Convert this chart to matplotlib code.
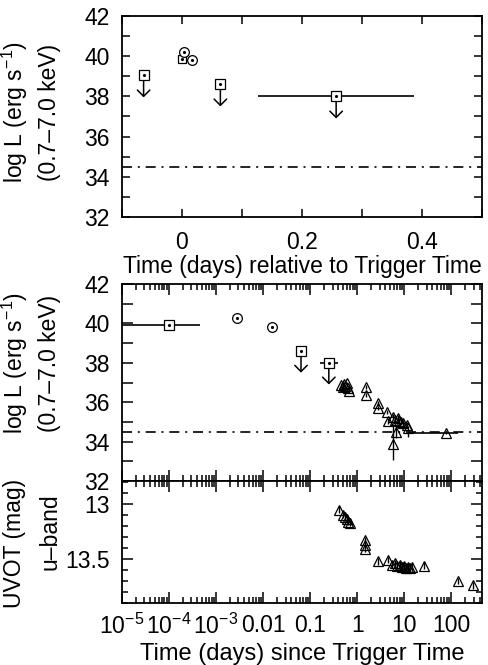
import numpy as np
import matplotlib.pyplot as plt
from matplotlib.ticker import FixedLocator, FixedFormatter, NullFormatter, LogLocator

plt.rcParams['font.family'] = ['Liberation Sans', 'DejaVu Sans']
plt.rcParams['mathtext.default'] = 'regular'

# --- top panel : linear time relative to trigger (days)
top_lim_t = [-0.064, 0.064, 0.257]
top_lim_L = [39.05, 38.6, 38.0]
top_lim_xlo = [0.0, 0.0, 0.131]
top_lim_xhi = [0.0, 0.0, 0.130]
top_sq_t = [0.0]
top_sq_L = [39.88]
top_circ_t = [0.003, 0.016]
top_circ_L = [40.22, 39.8]

# --- middle panel : log time since trigger
mid_sq_t = [1.0e-4]
mid_sq_L = [39.9]
mid_sq_xlo = [0.99e-4]
mid_sq_xhi = [3.6e-4]
mid_circ_t = [2.8e-3, 0.0153]
mid_circ_L = [40.25, 39.8]
mid_lim_t = [0.064, 0.25]
mid_lim_L = [38.6, 38.0]
mid_lim_xlo = [0.0, 0.09]
mid_lim_xhi = [0.0, 0.15]
mid_tri_t = [0.46, 0.50, 0.53, 0.56, 0.60, 0.63, 0.67, 1.55, 1.55, 2.75, 2.8,
             4.4, 4.6, 5.7, 5.8, 6.5, 6.8, 7.3, 7.8, 8.5, 9.5, 11.5, 12.0, 78.0]
mid_tri_L = [36.85, 36.75, 36.9, 36.8, 36.95, 36.7, 36.55, 36.75, 36.35, 35.95, 35.7,
             35.5, 35.05, 35.25, 33.9, 35.1, 34.5, 35.2, 35.05, 35.0, 34.95, 34.85, 34.7, 34.42]
mid_tri_elo = [0.1, 0.1, 0.1, 0.1, 0.1, 0.1, 0.1, 0.1, 0.1, 0.12, 0.12,
               0.12, 0.15, 0.15, 0.85, 0.15, 0.3, 0.15, 0.15, 0.15, 0.15, 0.15, 0.45, 0.05]
mid_tri_ehi = [0.1, 0.1, 0.1, 0.1, 0.1, 0.1, 0.1, 0.1, 0.1, 0.12, 0.12,
               0.12, 0.15, 0.15, 1.0, 0.15, 0.3, 0.15, 0.15, 0.15, 0.15, 0.15, 0.1, 0.05]
mid_bar_t = [78.0]
mid_bar_L = [34.42]
mid_bar_xlo = [66.0]
mid_bar_xhi = [60.0]

# --- bottom panel : UVOT u band
uv_t = [0.42, 0.50, 0.55, 0.60, 0.65, 0.70, 1.45, 1.45, 1.45, 2.8, 4.5,
        5.5, 6.5, 7.0, 8.0, 9.0, 10.0, 11.0, 12.0, 13.0, 15.0, 26.0, 139.0, 294.0]
uv_mag = [13.05, 13.10, 13.12, 13.14, 13.16, 13.17, 13.33, 13.37, 13.41, 13.52, 13.51,
          13.55, 13.54, 13.56, 13.55, 13.57, 13.56, 13.58, 13.57, 13.58, 13.57, 13.56, 13.70, 13.74]

bkg = 34.5  # background level
log_ticks = [1e-5, 1e-4, 1e-3, 1e-2, 0.1, 1, 10, 100]
log_labels = ['10$^{-5}$', '10$^{-4}$', '10$^{-3}$', '0.01', '0.1', '1', '10', '100']

fig = plt.figure(figsize=(4.89, 6.65), dpi=100)
ax1 = fig.add_axes([0.2495, 0.6737, 0.736, 0.3023])
ax2 = fig.add_axes([0.2495, 0.2767, 0.736, 0.2962])
ax3 = fig.add_axes([0.2495, 0.0932, 0.736, 0.1835])

fs = 16.5
k = 'black'
dd = (0, (6, 3.5, 1.2, 3.5))
arr = '->,head_length=0.45,head_width=0.45'


def lims(ax, t, L, xlo, xhi, d):
    ax.errorbar(t, L, xerr=[xlo, xhi], fmt='s', ms=7, mfc='white', mec=k, mew=0.9,
                ecolor=k, elinewidth=1.2, capsize=0, zorder=3)
    ax.plot(t, L, '.', color=k, ms=2.5, zorder=4)
    for x, y in zip(t, L):
        ax.annotate('', xy=(x, y - d), xytext=(x, y),
                    arrowprops=dict(arrowstyle=arr, color=k, lw=1.1, shrinkA=0, shrinkB=0))


def circs(ax, t, L):
    ax.plot(t, L, 'o', ms=7, mfc='white', mec=k, mew=0.9, zorder=3)
    ax.plot(t, L, '.', color=k, ms=2.5, zorder=4)


# top
ax1.axhline(bkg, color=k, lw=1.2, ls=dd)
lims(ax1, top_lim_t, top_lim_L, top_lim_xlo, top_lim_xhi, 1.1)
ax1.plot(top_sq_t, top_sq_L, 's', ms=6, mfc='white', mec=k, mew=0.9)
ax1.plot(top_sq_t, top_sq_L, '.', color=k, ms=2.5)
circs(ax1, top_circ_t, top_circ_L)
ax1.set_xlim(-0.1, 0.5)
ax1.set_ylim(32, 42)
ax1.xaxis.set_major_locator(FixedLocator([-0.1, 0, 0.1, 0.2, 0.3, 0.4, 0.5]))
ax1.xaxis.set_major_formatter(FixedFormatter(['', '0', '', '0.2', '', '0.4', '']))
ax1.yaxis.set_major_locator(FixedLocator(np.arange(32, 43, 1)))
ax1.yaxis.set_major_formatter(FixedFormatter([str(v) if v % 2 == 0 else '' for v in range(32, 43)]))
ax1.set_xlabel('Time (days) relative to Trigger Time', fontsize=fs, labelpad=1)

# middle
ax2.axhline(bkg, color=k, lw=1.2, ls=dd)
ax2.errorbar(mid_sq_t, mid_sq_L, xerr=[mid_sq_xlo, mid_sq_xhi], fmt='s', ms=7, mfc='white',
             mec=k, mew=0.9, ecolor=k, elinewidth=1.2, capsize=0, zorder=3)
ax2.plot(mid_sq_t, mid_sq_L, '.', color=k, ms=2.5, zorder=4)
circs(ax2, mid_circ_t, mid_circ_L)
lims(ax2, mid_lim_t, mid_lim_L, mid_lim_xlo, mid_lim_xhi, 1.1)
ax2.errorbar(mid_bar_t, mid_bar_L, xerr=[mid_bar_xlo, mid_bar_xhi], fmt='none', ecolor=k,
             elinewidth=1.2, capsize=0)
ax2.errorbar(mid_tri_t, mid_tri_L, yerr=[mid_tri_elo, mid_tri_ehi], fmt='^', ms=7,
             mfc='none', mec=k, mew=0.9, ecolor=k, elinewidth=1.0, capsize=0, zorder=3)
ax2.set_xscale('log')
ax2.set_xlim(1e-5, 450)
ax2.set_ylim(32, 42)
ax2.yaxis.set_major_locator(FixedLocator(np.arange(32, 43, 1)))
ax2.yaxis.set_major_formatter(FixedFormatter([str(v) if v % 2 == 0 else '' for v in range(32, 43)]))
ax2.xaxis.set_major_locator(FixedLocator(log_ticks))
ax2.xaxis.set_major_formatter(NullFormatter())

# bottom
ax3.errorbar(uv_t, uv_mag, yerr=0.03, fmt='^', ms=7, mfc='none', mec=k, mew=0.9,
             ecolor=k, elinewidth=1.0, capsize=0)
ax3.set_xscale('log')
ax3.set_xlim(1e-5, 450)
ax3.set_ylim(13.9, 12.79)
ax3.yaxis.set_major_locator(FixedLocator([13.0, 13.5]))
ax3.yaxis.set_major_formatter(FixedFormatter(['13', '13.5']))
ax3.yaxis.set_minor_locator(FixedLocator(np.arange(12.8, 13.95, 0.1)))
ax3.xaxis.set_major_locator(FixedLocator(log_ticks))
ax3.xaxis.set_major_formatter(FixedFormatter(log_labels))
ax3.set_xlabel('Time (days) since Trigger Time', fontsize=17, labelpad=3)

# y labels as figure text (two lines each)
fig.text(15 / 489, 1 - 112 / 665, 'log L (erg s$^{-1}$)', rotation=90, fontsize=fs,
         ha='center', va='center')
fig.text(50 / 489, 1 - 112 / 665, '(0.7–7.0 keV)', rotation=90, fontsize=fs,
         ha='center', va='center')
fig.text(15 / 489, 1 - 363 / 665, 'log L (erg s$^{-1}$)', rotation=90, fontsize=fs,
         ha='center', va='center')
fig.text(50 / 489, 1 - 363 / 665, '(0.7–7.0 keV)', rotation=90, fontsize=fs,
         ha='center', va='center')
fig.text(15 / 489, 1 - 543 / 665, 'UVOT (mag)', rotation=90, fontsize=fs,
         ha='center', va='center')
fig.text(50 / 489, 1 - 532 / 665, 'u–band', rotation=90, fontsize=fs,
         ha='center', va='center')

for ax in (ax1, ax2, ax3):
    for s in ax.spines.values():
        s.set_linewidth(1.3)
    ax.tick_params(which='both', direction='in', top=True, right=True, labelsize=fs,
                   width=1.1, colors=k)
    ax.tick_params(which='major', length=8, pad=9)
    ax.tick_params(which='minor', length=4)
for ax in (ax2, ax3):
    ax.xaxis.set_minor_locator(LogLocator(base=10, subs=np.arange(2, 10), numticks=20))
    ax.xaxis.set_minor_formatter(NullFormatter())
ax1.tick_params(which='major', length=6)
ax1.tick_params(axis='x', pad=10)
ax3.tick_params(axis='x', pad=8)

fig.savefig('out.png', dpi=100)
